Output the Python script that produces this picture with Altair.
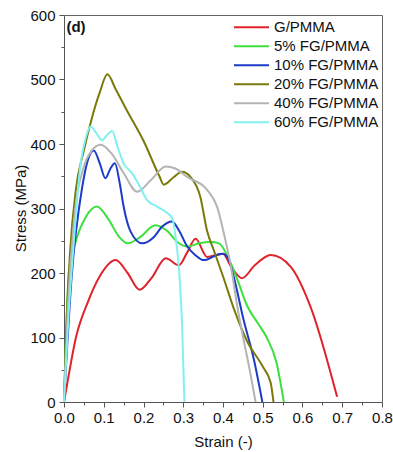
import altair as alt
import pandas as pd

series_names = ["G/PMMA", "5% FG/PMMA", "10% FG/PMMA", "20% FG/PMMA", "40% FG/PMMA", "60% FG/PMMA"]
series_colors = ["#e0232b", "#3de03d", "#1c3bc8", "#7a7a0a", "#b4b4b4", "#82f0f0"]

g_strain = [0, 0.01, 0.03, 0.06, 0.09, 0.13, 0.16, 0.19, 0.22, 0.256, 0.289, 0.31, 0.331, 0.36, 0.40, 0.42, 0.448, 0.48, 0.52, 0.57, 0.62, 0.687]
g_stress = [0, 35, 100, 155, 195, 220, 200, 174, 192, 223, 212, 232, 253, 225, 230, 210, 192, 212, 228, 210, 148, 8]

fg5_strain = [0, 0.005, 0.012, 0.03, 0.055, 0.083, 0.11, 0.14, 0.16, 0.19, 0.23, 0.26, 0.285, 0.31, 0.34, 0.37, 0.39, 0.41, 0.436, 0.46, 0.49, 0.51, 0.535, 0.553]
fg5_stress = [0, 100, 200, 250, 287, 303, 285, 255, 246, 255, 274, 265, 248, 241, 246, 248, 246, 228, 190, 150, 120, 100, 60, 0]

fg10_strain = [0, 0.02, 0.045, 0.06, 0.075, 0.09, 0.104, 0.117, 0.128, 0.14, 0.15, 0.167, 0.197, 0.225, 0.247, 0.272, 0.29, 0.31, 0.33, 0.352, 0.385, 0.40, 0.415, 0.427, 0.452, 0.478, 0.499]
fg10_stress = [0, 200, 330, 375, 390, 370, 347, 362, 370, 340, 303, 265, 246, 255, 272, 280, 265, 241, 228, 220, 228, 230, 220, 194, 127, 65, 0]

fg20_strain = [0, 0.005, 0.015, 0.03, 0.05, 0.07, 0.09, 0.109, 0.13, 0.16, 0.2, 0.24, 0.251, 0.275, 0.297, 0.318, 0.343, 0.36, 0.377, 0.40, 0.43, 0.46, 0.50, 0.52, 0.527]
fg20_stress = [0, 100, 230, 330, 390, 440, 480, 508, 485, 450, 405, 350, 337, 348, 357, 349, 318, 265, 235, 195, 140, 95, 55, 30, 0]

fg40_strain = [0, 0.01, 0.025, 0.05, 0.07, 0.092, 0.12, 0.15, 0.184, 0.22, 0.256, 0.28, 0.31, 0.36, 0.385, 0.406, 0.42, 0.436, 0.452, 0.469, 0.482]
fg40_stress = [0, 150, 280, 365, 390, 399, 385, 355, 326, 345, 365, 362, 349, 329, 303, 251, 210, 148, 96, 44, 0]

fg60_strain = [0, 0.01, 0.025, 0.04, 0.055, 0.067, 0.08, 0.096, 0.11, 0.121, 0.135, 0.15, 0.172, 0.19, 0.209, 0.234, 0.26, 0.272, 0.28, 0.29, 0.297, 0.303]
fg60_stress = [0, 120, 250, 360, 410, 427, 418, 406, 415, 420, 395, 370, 354, 335, 313, 303, 293, 285, 260, 200, 120, 0]

x_major = [0, 0.1, 0.2, 0.3, 0.4, 0.5, 0.6, 0.7, 0.8]
x_minor = [0.05, 0.15, 0.25, 0.35, 0.45, 0.55, 0.65, 0.75]
y_major = [0, 100, 200, 300, 400, 500, 600]
y_minor = [50, 150, 250, 350, 450, 550]

all_series = [
    (g_strain, g_stress),
    (fg5_strain, fg5_stress),
    (fg10_strain, fg10_stress),
    (fg20_strain, fg20_stress),
    (fg40_strain, fg40_stress),
    (fg60_strain, fg60_stress),
]
rows = []
for k, (name, (xs, ys)) in enumerate(zip(series_names, all_series)):
    for i, (xv, yv) in enumerate(zip(xs, ys)):
        rows.append({"Series": name, "order": k, "idx": i, "Strain": xv, "Stress": yv})
df = pd.DataFrame(rows)

FONT = "Liberation Sans"
xscale = alt.Scale(domain=[0, 0.8], nice=False, zero=False)
yscale = alt.Scale(domain=[0, 600], nice=False)

lines = alt.Chart(df).mark_line(strokeWidth=2, interpolate="monotone").encode(
    x=alt.X("Strain:Q", scale=xscale,
            axis=alt.Axis(values=x_major, format=".1f", title="Strain (-)", orient="bottom",
                          tickSize=5, labelPadding=3, titleY=39, titleBaseline="middle",
                          labelFlush=False, titleFontWeight="normal",
                          labelFontSize=15, titleFontSize=15)),
    y=alt.Y("Stress:Q", scale=yscale,
            axis=alt.Axis(values=y_major, format="d", title="Stress (MPa)", orient="left",
                          tickSize=5, labelPadding=4, titleX=-44, titleY=193,
                          titleBaseline="middle", titleAlign="center",
                          labelFlush=False, titleFontWeight="normal",
                          labelFontSize=15, titleFontSize=15)),
    color=alt.Color("Series:N", scale=alt.Scale(domain=series_names, range=series_colors),
                    legend=alt.Legend(title=None, orient="none", legendX=169, legendY=3,
                                      symbolType="stroke", symbolSize=1225, symbolStrokeWidth=2,
                                      clipHeight=18.7, rowPadding=0, labelOffset=4,
                                      labelFontSize=15, labelFont=FONT, labelColor="#111",
                                      padding=0)),
    detail="order:O",
    order="idx:Q",
)

minor = alt.Chart(df).mark_line(opacity=0).encode(
    x=alt.X("Strain:Q", scale=xscale,
            axis=alt.Axis(values=x_minor, labels=False, domain=False, title=None,
                          orient="bottom", tickSize=3)),
    y=alt.Y("Stress:Q", scale=yscale,
            axis=alt.Axis(values=y_minor, labels=False, domain=False, title=None,
                          orient="left", tickSize=3)),
)

label = alt.Chart(pd.DataFrame({"t": ["(d)"]})).mark_text(
    text="(d)", fontWeight="bold", fontSize=15, font=FONT, align="left", baseline="middle", color="#111"
).encode(x=alt.X(datum=0.006, axis=None), y=alt.Y(datum=581, axis=None))

chart = alt.layer(lines, minor, label).resolve_axis(x="independent", y="independent").properties(
    width=318, height=387,
    background="white",
    autosize=alt.AutoSizeParams(type="none"),
    padding={"left": 64, "top": 15, "right": 11, "bottom": 50},
).configure_view(stroke="#666", strokeWidth=1).configure_axis(
    grid=False, labelFont=FONT, titleFont=FONT, labelFontSize=15, titleFontSize=15,
    labelColor="#111", titleColor="#111", titleFontWeight="normal",
    domainColor="#555", tickColor="#555", domainWidth=1, tickWidth=1,
)

chart.save("out.html", embed_options={"renderer": "svg", "actions": False})
